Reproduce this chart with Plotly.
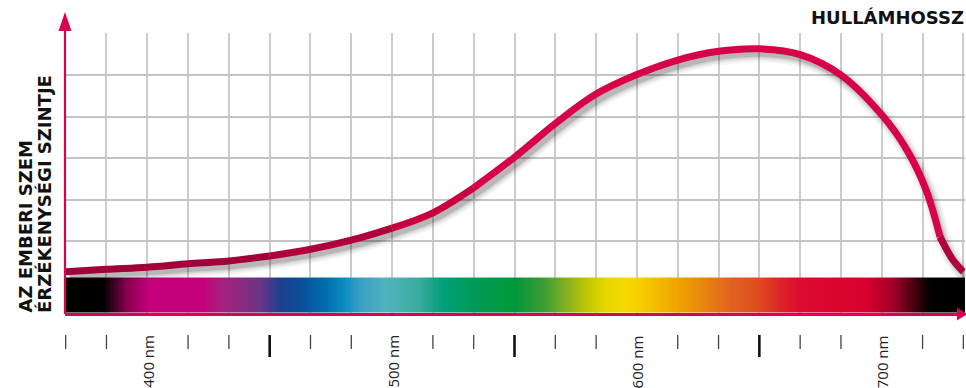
import numpy as np
import plotly.graph_objects as go

# ---------------- data ----------------
wavelength_nm = [366.7, 383.3, 400.0, 416.7, 433.3, 450.0, 466.7, 483.3, 500.0, 516.7,
                 533.3, 550.0, 566.7, 583.3, 600.0, 616.7, 633.3, 650.0, 666.7, 683.3,
                 700.0, 710.3, 718.1, 723.8, 729.1, 733.3]
sensitivity = [0.26, 0.32, 0.37, 0.45, 0.52, 0.64, 0.80, 1.02, 1.31, 1.68,
               2.28, 3.02, 3.83, 4.54, 5.01, 5.36, 5.57, 5.63, 5.49, 5.00,
               4.04, 3.19, 2.23, 1.10, 0.54, 0.26]

label_nm = [400, 500, 600, 700]
major_tick_nm = [450, 550, 650]
grid_start_nm = 366.667
grid_step_nm = 100 / 6
grid_count = 23

spectrum_nm = [366.4, 381.9, 391.7, 401.1, 422.8, 429.7, 437.9, 446.0, 454.2, 462.4,
               473.4, 480.0, 486.9, 497.1, 511.4, 520.8, 534.7, 550.2, 561.6, 571.4,
               579.6, 587.8, 596.0, 606.6, 617.6, 628.6, 639.3, 650.3, 658.5, 666.6,
               694.0, 704.6, 712.8, 719.7, 734.0]
spectrum_colors = ["#000000", "#000000", "#8a0050", "#c4007a", "#c4007a", "#a8207f", "#8a2a80",
                   "#6a3488", "#1e3f8f", "#0a4f98", "#0070ae", "#0a8ac0", "#3aa0c5", "#50b3bf",
                   "#3aab9c", "#00a078", "#009a55", "#00983a", "#3a9c34", "#88b020", "#c0c800",
                   "#e8d800", "#f8d800", "#f5c000", "#eea000", "#e88010", "#e06020", "#e04a20",
                   "#dc2428", "#dc0a30", "#d8002e", "#a00028", "#4a0010", "#000000", "#000000"]

x_title = "HULLÁMHOSSZ"
y_title_1 = "AZ EMBERI SZEM"
y_title_2 = "ÉRZÉKENYSÉGI SZINTJE"

# ---------------- style ----------------
segment_breaks = [0, 5, 8, 10, 23, 25]
segment_colors = ["#a2003a", "#b0003c", "#c8003f", "#d80046", "#b0003c"]
RED = "#dc0050"
TITLE_FONT = "DejaVu Sans"
W, H = 966, 388
L, R, T, B = 65, 1, 33, 75
X_RANGE = [366.4, 734.0]
Y_RANGE = [-0.735, 6.012]


def px_x(px):
    return (px - L) / (W - L - R)


def px_y(py):
    return (H - B - py) / (H - T - B)


fig = go.Figure()

# spectrum band (heatmap coloured by wavelength)
zmin, zmax = min(spectrum_nm), max(spectrum_nm)
colorscale = [[(v - zmin) / (zmax - zmin), c] for v, c in zip(spectrum_nm, spectrum_colors)]
edges = np.linspace(zmin, zmax, 451)
centers = (edges[:-1] + edges[1:]) / 2
fig.add_trace(go.Heatmap(
    x=edges, y=[-0.735, 0.12], z=[centers], colorscale=colorscale,
    zmin=zmin, zmax=zmax, showscale=False, hoverinfo="skip"))

# shadow of the curve
wl = np.array(wavelength_nm)
sv = np.array(sensitivity)
for w_, a_ in [(17, 0.04), (13, 0.06), (9, 0.09), (6, 0.12)]:
    fig.add_trace(go.Scatter(
        x=wl + 1.5, y=sv - 0.12, mode="lines",
        line=dict(color=f"rgba(0,0,0,{a_})", width=w_, shape="spline", smoothing=1.0),
        hoverinfo="skip", showlegend=False))

# main curve in colour segments
for k in range(len(segment_breaks) - 1):
    a, b = segment_breaks[k], segment_breaks[k + 1]
    fig.add_trace(go.Scatter(
        x=wavelength_nm[a:b + 1], y=sensitivity[a:b + 1], mode="lines",
        line=dict(color=segment_colors[k], width=7, shape="spline", smoothing=1.0),
        hoverinfo="skip", showlegend=False))

# ticks below the axis (separated from it)
shapes = []
grid_vals = [grid_start_nm + i * grid_step_nm for i in range(grid_count)]
for v in grid_vals:
    if any(abs(v - l) < 1 for l in label_nm):
        continue
    major = any(abs(v - m) < 1 for m in major_tick_nm)
    shapes.append(dict(type="line", xref="x", yref="paper", x0=v, x1=v,
                       y0=px_y(335), y1=px_y(357 if major else 349),
                       line=dict(color="#111111" if major else "#444444", width=2.6 if major else 1.3)))

# y axis line with arrow
shapes.append(dict(type="line", xref="paper", yref="paper", x0=px_x(65), x1=px_x(65),
                   y0=px_y(314), y1=px_y(28), line=dict(color=RED, width=2.2)))
shapes.append(dict(type="path", xref="paper", yref="paper",
                   path=f"M {px_x(58.5)} {px_y(31)} L {px_x(65)} {px_y(12)} L {px_x(71.5)} {px_y(31)} Z",
                   fillcolor=RED, line=dict(width=0)))
# x axis arrow
shapes.append(dict(type="path", xref="paper", yref="paper",
                   path=f"M {px_x(957)} {px_y(307.5)} L {px_x(967)} {px_y(314)} L {px_x(957)} {px_y(320.5)} Z",
                   fillcolor=RED, line=dict(width=0)))

annotations = []
for v in label_nm:
    annotations.append(dict(x=v, xref="x", y=px_y(333), yref="paper", text=f"{v} nm",
                            textangle=-90, showarrow=False, xanchor="center", yanchor="top",
                            font=dict(family="Open Sans", size=15, color="#222222")))
annotations.append(dict(x=px_x(966), xref="paper", y=px_y(18), yref="paper", text=x_title,
                        showarrow=False, xanchor="right", yanchor="middle",
                        font=dict(family=TITLE_FONT, size=18, color="#111111", weight=700)))
annotations.append(dict(x=px_x(25), xref="paper", y=px_y(315), yref="paper", text=y_title_1,
                        textangle=-90, showarrow=False, xanchor="center", yanchor="bottom",
                        font=dict(family=TITLE_FONT, size=18, color="#111111", weight=700)))
annotations.append(dict(x=px_x(44), xref="paper", y=px_y(315), yref="paper", text=y_title_2,
                        textangle=-90, showarrow=False, xanchor="center", yanchor="bottom",
                        font=dict(family=TITLE_FONT, size=18, color="#111111", weight=700)))

fig.update_layout(
    width=W, height=H, margin=dict(l=L, r=R, t=T, b=B, pad=0),
    paper_bgcolor="white", plot_bgcolor="white", showlegend=False,
    xaxis=dict(range=X_RANGE, tick0=grid_start_nm, dtick=grid_step_nm, showgrid=True,
               gridcolor="#cccccc", gridwidth=2, showticklabels=False, ticks="",
               zeroline=False, showline=True, linecolor=RED, linewidth=2.5, fixedrange=True),
    yaxis=dict(range=Y_RANGE, tick0=0, dtick=1, showgrid=True, gridcolor="#c4c4c4", gridwidth=2,
               showticklabels=False, ticks="", zeroline=False, showline=False, fixedrange=True),
    shapes=shapes, annotations=annotations,
)

fig.write_html("out.html", config={"displayModeBar": False},
               post_script="document.body.style.margin='0px';document.body.style.overflow='hidden';")
